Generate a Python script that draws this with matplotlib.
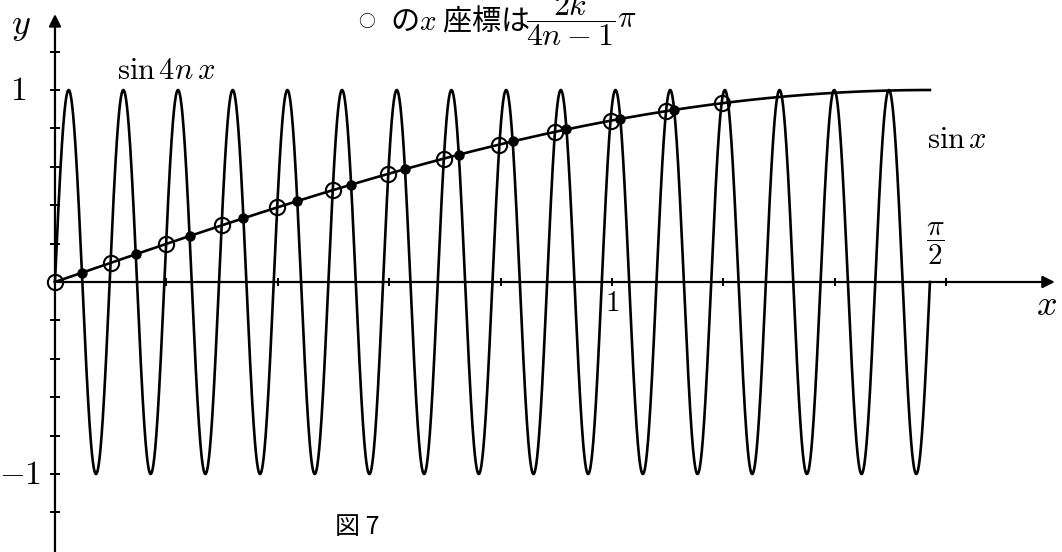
import numpy as np
import matplotlib.pyplot as plt

plt.rcParams['font.family'] = ['Noto Sans CJK JP', 'DejaVu Sans']
plt.rcParams['mathtext.fontset'] = 'cm'

# n in sin(4nx)
n = 16
# indices of the intersection points
k_open = list(range(0, 13))     # x = 2k/(4n-1) * pi
k_filled = list(range(0, 12))   # x = (2k+1)/(4n+1) * pi
x_ticks = [0.2, 0.4, 0.6, 0.8, 1.0, 1.2, 1.4, 1.6]
y_ticks = [-1.2, -1.0, -0.8, -0.6, -0.4, -0.2, 0.2, 0.4, 0.6, 0.8, 1.0, 1.2]

fig = plt.figure(figsize=(10.62, 5.52), dpi=100)
ax = fig.add_axes([0, 0, 1, 1])
ax.set_xlim(-0.0987, 1.8079)
ax.set_ylim(-1.40625, 1.46875)
ax.axis('off')

# axes with arrows
ax.annotate('', xy=(1.8, 0), xytext=(0, 0),
            arrowprops=dict(arrowstyle='-|>', color='black', lw=1.6, mutation_scale=18))
ax.annotate('', xy=(0, 1.41), xytext=(0, -1.45),
            arrowprops=dict(arrowstyle='-|>', color='black', lw=1.6, mutation_scale=18))

ax.plot(x_ticks, np.zeros(len(x_ticks)), ls='none', marker='|', ms=6, mew=1.4, color='black')
ax.plot(np.zeros(len(y_ticks)), y_ticks, ls='none', marker='_', ms=7, mew=1.4, color='black')

# curves
x = np.linspace(0, np.pi / 2, 4000)
ax.plot(x, np.sin(4 * n * x), color='black', lw=1.9)
ax.plot(x, np.sin(x), color='black', lw=1.9)

# intersection points
xo = np.array(k_open) * 2 * np.pi / (4 * n - 1)
xf = (2 * np.array(k_filled) + 1) * np.pi / (4 * n + 1)
ax.plot(xo, np.sin(xo), ls='none', marker='o', ms=11, mfc='none', mec='black', mew=1.5, zorder=5)
ax.plot(xf, np.sin(xf), ls='none', marker='o', ms=6.5, mfc='black', mec='black', zorder=5)

# labels
ax.text(-0.062, 1.34, '$y$', fontsize=26, ha='center', va='center')
ax.text(1.78, -0.12, '$x$', fontsize=26, ha='center', va='center')
ax.text(-0.067, 1.0, '$1$', fontsize=24, ha='center', va='center')
ax.text(-0.062, -1.0, '$-1$', fontsize=24, ha='center', va='center')
ax.text(1.0, -0.11, '$1$', fontsize=21, ha='center', va='center')
ax.text(1.58, 0.2, r'$\dfrac{\pi}{2}$', fontsize=21, ha='center', va='center')
ax.text(0.2, 1.1, r'$\sin 4n\,x$', fontsize=22, ha='center', va='center')
ax.text(1.62, 0.74, r'$\sin x$', fontsize=22, ha='center', va='center')

# caption: ○ の x 座標は 2k/(4n-1) π
ax.text(0.56, 1.354, '○', fontsize=12, ha='center', va='center')
ax.text(0.602, 1.354, r'の$x$ 座標は', fontsize=21, ha='left', va='center')
ax.text(0.925, 1.37, r'$\dfrac{2k}{4n-1}$', fontsize=23, ha='center', va='center')
ax.text(1.026, 1.37, r'$\pi$', fontsize=22, ha='center', va='center')

ax.text(0.542, -1.276, '図 7', fontsize=18, ha='center', va='center')

fig.savefig('out.png', dpi=100)
